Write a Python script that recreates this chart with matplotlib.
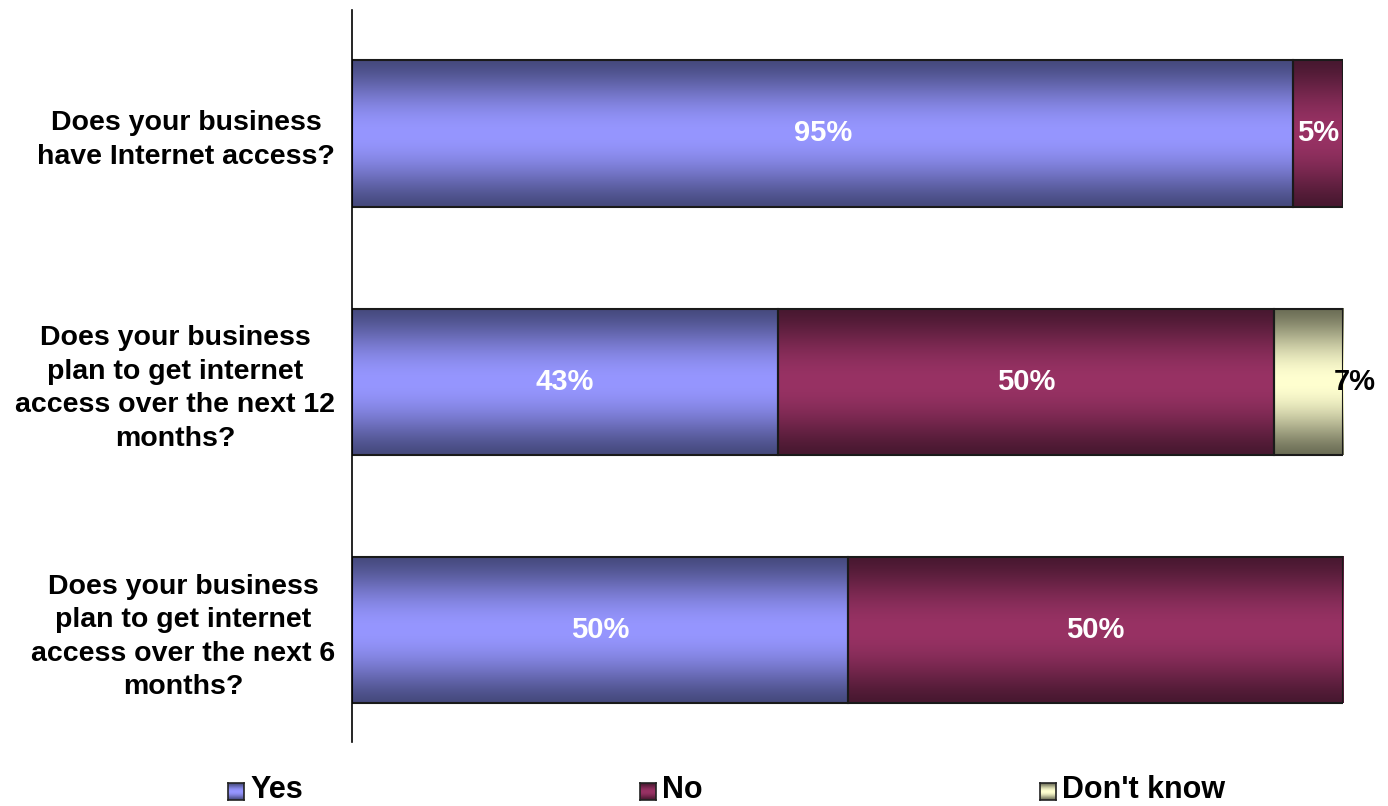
import numpy as np
import matplotlib
matplotlib.use("Agg")
import matplotlib.pyplot as plt

plt.rcParams['font.family'] = ['Liberation Sans', 'DejaVu Sans']

questions = [
    "Does your business\nhave Internet access?",
    "Does your business\nplan to get internet\naccess over the next 12\nmonths?",
    "Does your business\nplan to get internet\naccess over the next 6\nmonths?",
]
series_names = ["Yes", "No", "Don't know"]
yes_vals = [95, 43, 50]
no_vals = [5, 50, 50]
dk_vals = [0, 7, 0]
series_vals = [yes_vals, no_vals, dk_vals]

# (edge colour, centre colour) for the shaded gradient
grad_colors = [
    ((70, 74, 126), (150, 150, 255)),
    ((72, 24, 48), (152, 50, 100)),
    ((108, 110, 86), (255, 255, 208)),
]
label_colors = ["white", "white", "black"]


def gradient_img(edge, center, n=200):
    t = np.linspace(0, 1, n)
    f = np.sin(np.pi * t) ** 1.4
    e = np.array(edge) / 255.0
    c = np.array(center) / 255.0
    cols = e[None, :] + (c - e)[None, :] * f[:, None]
    return cols[:, None, :]


fig = plt.figure(figsize=(13.88, 8.06), dpi=100)
ax = fig.add_axes([352 / 1388, 1 - 742 / 806, (1343 - 352) / 1388, (742 - 10) / 806])

bar_h = 0.59
y = np.arange(len(questions))
left = np.zeros(len(questions))
for si, vals in enumerate(series_vals):
    edge, center = grad_colors[si]
    img = gradient_img(edge, center)
    for qi, v in enumerate(vals):
        if v <= 0:
            continue
        x0 = left[qi]
        ax.imshow(img, extent=(x0, x0 + v, y[qi] + bar_h / 2, y[qi] - bar_h / 2),
                  aspect='auto', interpolation='bilinear', zorder=1)
        ax.barh(y[qi], v, left=x0, height=bar_h, facecolor='none',
                edgecolor='#1a1a1a', linewidth=1.5, zorder=2)
        if si == 2:
            tx = x0 + v + 1.2
        else:
            tx = x0 + v / 2
        ax.text(tx, y[qi], f"{v}%", ha='center', va='center',
                color=label_colors[si], fontsize=21, fontweight='bold', zorder=3)
    left = left + np.array(vals)

ax.set_xlim(0, 100)
ax.set_ylim(2.45, -0.497)
ax.set_yticks(y)
ax.set_yticklabels(questions, fontsize=20.5, fontweight='bold', multialignment='center',
                   linespacing=1.38)
ax.tick_params(axis='y', length=0, pad=12)
ax.set_xticks([])
for s in ['top', 'right', 'bottom']:
    ax.spines[s].set_visible(False)
ax.spines['left'].set_linewidth(1.2)
ax.spines['left'].set_color('black')

# legend with shaded markers
leg_x = [228, 640, 1040]
for si, name in enumerate(series_names):
    edge, center = grad_colors[si]
    mx = leg_x[si]
    max_ = fig.add_axes([mx / 1388, 1 - 800 / 806, 16 / 1388, 17 / 806])
    max_.imshow(gradient_img(edge, center), aspect='auto', extent=(0, 1, 1, 0))
    max_.set_xticks([])
    max_.set_yticks([])
    for sp in max_.spines.values():
        sp.set_linewidth(1.2)
        sp.set_color('#222222')
    fig.text((mx + 22) / 1388, 1 - 790 / 806, name, ha='left', va='center',
             fontsize=22, fontweight='bold')

fig.savefig("out.png", dpi=100)
